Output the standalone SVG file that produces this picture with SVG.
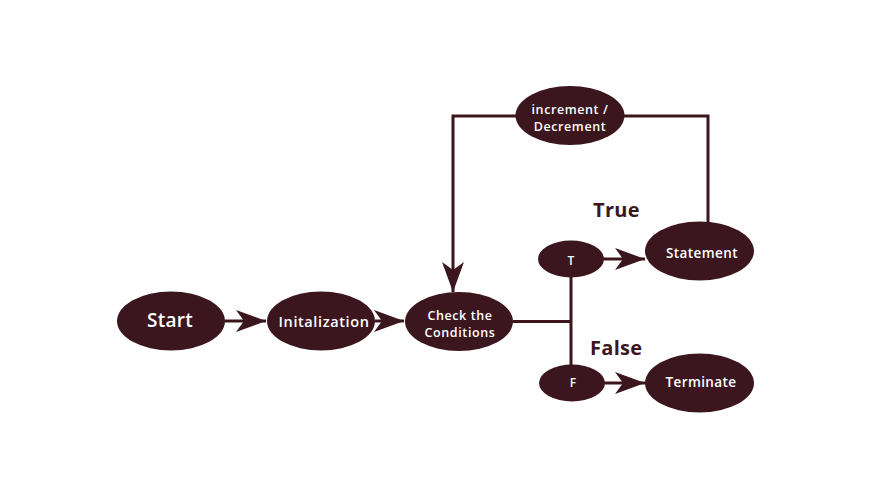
<svg xmlns="http://www.w3.org/2000/svg" width="871" height="500" viewBox="0 0 871 500">
<defs>
<style>
.n{fill:#3b161f}
.t{fill:#ffffff;font-family:"Open Sans","Liberation Sans",sans-serif;font-weight:600;text-anchor:middle}
.l{fill:none;stroke:#3b161f;stroke-width:3}
.lab{fill:#3b161f;font-family:"Open Sans","Liberation Sans",sans-serif;font-weight:700;font-size:20px}
</style>
<marker id="ah" markerUnits="userSpaceOnUse" viewBox="0 0 30 24" markerWidth="30" markerHeight="24" refX="30" refY="12" orient="auto">
<path d="M0,1 L30,12 L0,23 L8,12 Z" fill="#3b161f"/>
</marker>
<clipPath id="c1"><ellipse cx="321" cy="321" rx="52" ry="29.5"/></clipPath>
</defs>
<rect width="871" height="500" fill="#ffffff"/>
<g id="connectors">
<line class="l" x1="225" y1="321" x2="266" y2="321" marker-end="url(#ah)"/>
<line class="l" x1="375" y1="321" x2="404" y2="321" marker-end="url(#ah)"/>
<line class="l" x1="513" y1="321.5" x2="571" y2="321.5"/>
<line class="l" x1="571" y1="276" x2="571" y2="366"/>
<line class="l" x1="603" y1="259" x2="645" y2="259" marker-end="url(#ah)"/>
<line class="l" x1="603" y1="383" x2="645" y2="383" marker-end="url(#ah)"/>
<polyline class="l" points="708,223 708,116 620,116"/>
<polyline class="l" points="520,116 453,116 453,292" marker-end="url(#ah)"/>
</g>
<g id="start"><ellipse class="n" cx="171" cy="321" rx="54" ry="29.5"/><text class="t" x="170" y="327" font-size="19" letter-spacing="0.3">Start</text></g>
<g id="init"><ellipse class="n" cx="321" cy="321" rx="54" ry="29.5"/><text class="t" x="324" y="327" font-size="14.5" letter-spacing="0.6" clip-path="url(#c1)">Initalization</text></g>
<g id="check"><ellipse class="n" cx="459" cy="321.5" rx="54" ry="29.5"/><text class="t" x="460" y="320" font-size="12.5" letter-spacing="0.6">Check the</text><text class="t" x="460" y="337" font-size="12.5" letter-spacing="0.6">Conditions</text></g>
<g id="incdec"><ellipse class="n" cx="570" cy="115.5" rx="54.5" ry="29.5"/><text class="t" x="570" y="114" font-size="12.5" letter-spacing="0.6">increment /</text><text class="t" x="570" y="131" font-size="12.5" letter-spacing="0.6">Decrement</text></g>
<g id="t"><ellipse class="n" cx="571" cy="259" rx="33" ry="18.5"/><text class="t" x="571" y="265" font-size="12">T</text></g>
<g id="f"><ellipse class="n" cx="572" cy="383" rx="33" ry="18.5"/><text class="t" x="573" y="387" font-size="12">F</text></g>
<g id="statement"><ellipse class="n" cx="699.5" cy="251" rx="54.5" ry="29.5"/><text class="t" x="702" y="257.5" font-size="13.5" letter-spacing="0.4">Statement</text></g>
<g id="terminate"><ellipse class="n" cx="699.5" cy="383" rx="54.5" ry="29.5"/><text class="t" x="701" y="386.5" font-size="13.5" letter-spacing="0.4">Terminate</text></g>
<text class="lab" x="593" y="217" letter-spacing="0.3">True</text>
<text class="lab" x="590" y="355" letter-spacing="0.3">False</text>
</svg>
